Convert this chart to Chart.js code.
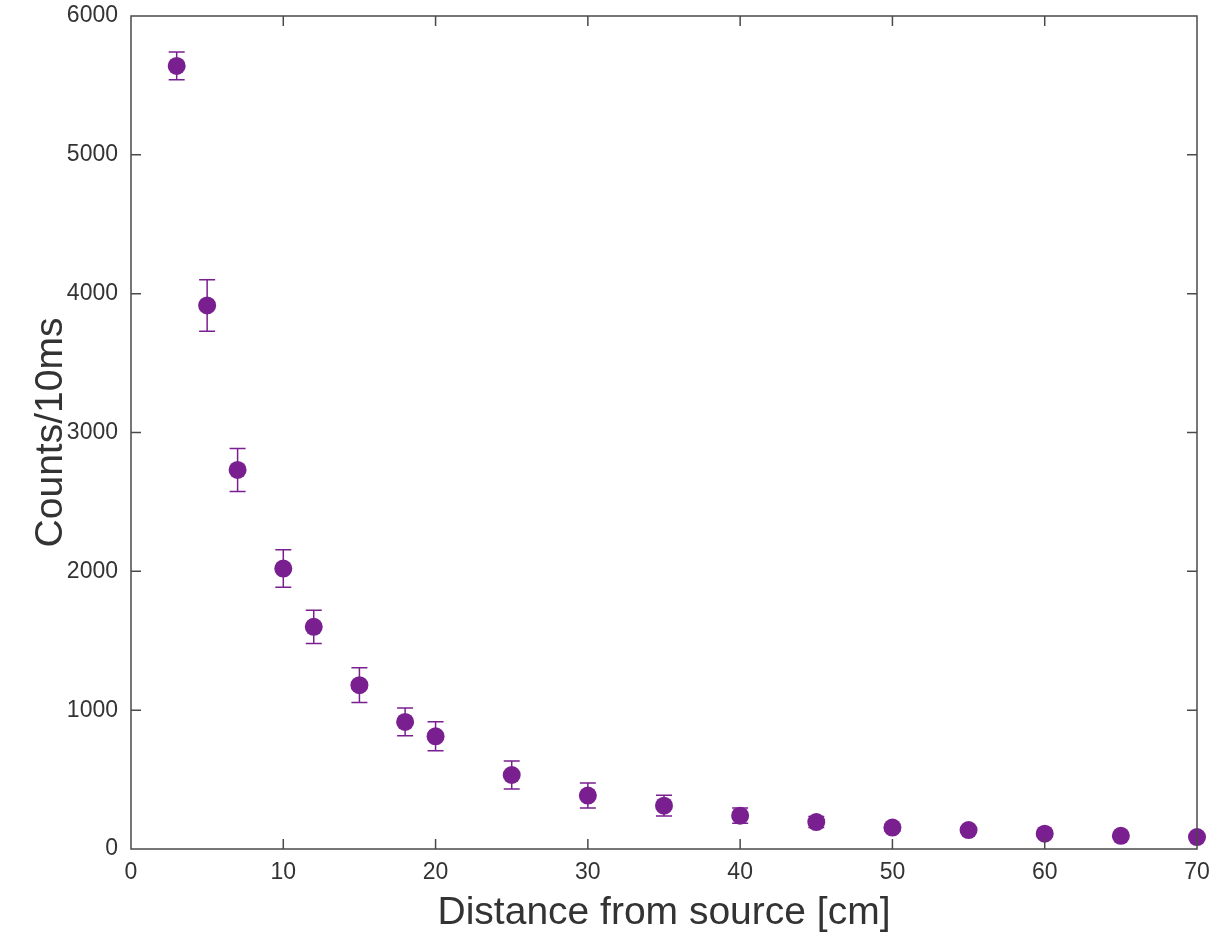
<!DOCTYPE html>
<html>
<head>
<meta charset="utf-8">
<script src="https://cdn.jsdelivr.net/npm/chart.js@4/dist/chart.umd.min.js"></script>
<style>
  html, body { margin: 0; padding: 0; background: #fff; }
  #wrap { width: 1219px; height: 937px; }
</style>
</head>
<body>
<div id="wrap"><canvas id="grafico"></canvas></div>
<script>
// distancia da fonte (cm)
const distancias = [3, 5, 7, 10, 12, 15, 18, 20, 25, 30, 35, 40, 45, 50, 55, 60, 65, 70];
// contagens por 10 ms
const contagens = [5640, 3915, 2730, 2020, 1600, 1180, 915, 812, 533, 385, 312, 240, 194, 154, 136, 110, 95, 86];
// barras de erro (+/-)
const erros = [100, 185, 155, 135, 120, 125, 100, 105, 100, 90, 75, 55, 40, 25, 15, 15, 12, 10];

const xTicks = [0, 10, 20, 30, 40, 50, 60, 70];
const yTicks = [0, 1000, 2000, 3000, 4000, 5000, 6000];

const roxo = "#7a1f8f";
const corEixo = "#4a4a4a";
const fonte = "'Liberation Sans', Arial, sans-serif";

// desenha barras de erro e a caixa com ticks para dentro
const errorBarPlugin = {
  id: "errorBars",
  beforeDatasetsDraw(chart) {
    const ctx = chart.ctx;
    const xs = chart.scales.x;
    const ys = chart.scales.y;
    ctx.save();
    ctx.strokeStyle = roxo;
    ctx.lineWidth = 1.5;
    distancias.forEach((d, i) => {
      const px = xs.getPixelForValue(d);
      const top = ys.getPixelForValue(contagens[i] + erros[i]);
      const bot = ys.getPixelForValue(contagens[i] - erros[i]);
      ctx.beginPath();
      ctx.moveTo(px, top);
      ctx.lineTo(px, bot);
      ctx.moveTo(px - 8, top);
      ctx.lineTo(px + 8, top);
      ctx.moveTo(px - 8, bot);
      ctx.lineTo(px + 8, bot);
      ctx.stroke();
    });
    ctx.restore();
  },
  afterDraw(chart) {
    const ctx = chart.ctx;
    const a = chart.chartArea;
    const xs = chart.scales.x;
    const ys = chart.scales.y;
    ctx.save();
    ctx.strokeStyle = corEixo;
    ctx.lineWidth = 1.5;
    ctx.strokeRect(a.left, a.top, a.right - a.left, a.bottom - a.top);
    ctx.beginPath();
    xTicks.slice(1, -1).forEach((v) => {
      const px = xs.getPixelForValue(v);
      ctx.moveTo(px, a.bottom);
      ctx.lineTo(px, a.bottom - 10);
      ctx.moveTo(px, a.top);
      ctx.lineTo(px, a.top + 10);
    });
    yTicks.slice(1, -1).forEach((v) => {
      const py = ys.getPixelForValue(v);
      ctx.moveTo(a.left, py);
      ctx.lineTo(a.left + 10, py);
      ctx.moveTo(a.right, py);
      ctx.lineTo(a.right - 10, py);
    });
    ctx.stroke();
    ctx.restore();
  },
};

new Chart(document.getElementById("grafico"), {
  type: "scatter",
  data: {
    datasets: [
      {
        label: "Contagens",
        data: distancias.map((d, i) => ({ x: d, y: contagens[i] })),
        backgroundColor: roxo,
        borderColor: roxo,
        pointRadius: 9,
        pointHoverRadius: 9,
        borderWidth: 0,
        clip: false,
      },
    ],
  },
  options: {
    responsive: true,
    maintainAspectRatio: false,
    animation: false,
    layout: { padding: { top: 16, right: 22, left: 0, bottom: 0 } },
    plugins: { legend: { display: false }, tooltip: { enabled: false } },
    scales: {
      x: {
        type: "linear",
        min: 0,
        max: 70,
        afterBuildTicks: (s) => { s.ticks = xTicks.map((v) => ({ value: v })); },
        afterFit: (s) => {
          s.height = 88;
          s.paddingLeft = 0;
          s.paddingRight = 0;
        },
        grid: { display: false, drawTicks: false },
        border: { display: false },
        ticks: {
          color: "#333",
          font: { family: fonte, size: 23 },
          padding: 10,
          maxRotation: 0,
          callback: (v) => String(v),
        },
        title: {
          display: true,
          text: "Distance from source [cm]",
          color: "#333",
          font: { family: fonte, size: 39 },
          padding: { top: 0, bottom: 0 },
        },
      },
      y: {
        type: "linear",
        min: 0,
        max: 6000,
        afterBuildTicks: (s) => { s.ticks = yTicks.map((v) => ({ value: v })); },
        afterFit: (s) => {
          s.width = 131;
          s.paddingTop = 0;
          s.paddingBottom = 0;
        },
        grid: { display: false, drawTicks: false },
        border: { display: false },
        ticks: {
          color: "#333",
          font: { family: fonte, size: 23 },
          padding: 13,
          callback: (v) => String(v),
        },
        title: {
          display: true,
          text: "Counts/10ms",
          color: "#333",
          font: { family: fonte, size: 39 },
          padding: { top: 28, bottom: 0 },
        },
      },
    },
  },
  plugins: [errorBarPlugin],
});
</script>
</body>
</html>
